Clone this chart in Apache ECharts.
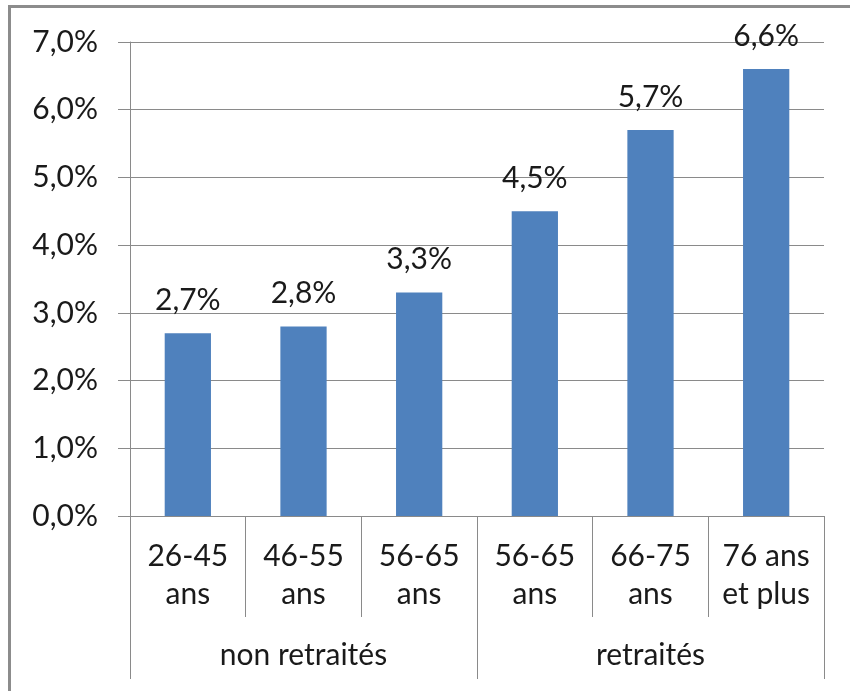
<!DOCTYPE html>
<html>
<head>
<meta charset="utf-8">
<script src="https://cdn.jsdelivr.net/npm/echarts@6/dist/echarts.min.js"></script>
<style>
html,body{margin:0;padding:0;background:#fff;}
#chart{width:850px;height:691px;}
</style>
</head>
<body>
<div id="chart"></div>
<script>
const categories = ['26-45\nans', '46-55\nans', '56-65\nans', '56-65\nans', '66-75\nans', '76 ans\net plus'];
const groups = ['non retraités', 'retraités'];
const values = [2.7, 2.8, 3.3, 4.5, 5.7, 6.6];
const yTicks = { min: 0, max: 7, interval: 1 };

const font = 'Lato, "Open Sans", sans-serif';
const gridColor = '#8a8a8a';
const textColor = '#1a1a1a';
const fs = 30;
const fmt = v => v.toFixed(1).replace('.', ',') + '%';

const chart = echarts.init(document.getElementById('chart'));
chart.setOption({
  animation: false,
  backgroundColor: '#fff',
  graphic: [{
    type: 'rect',
    shape: { x: 9.5, y: 6.5, width: 900, height: 800 },
    style: { fill: 'none', stroke: '#8c8c8c', lineWidth: 3 }
  }],
  grid: { left: 130, right: 26, top: 42, bottom: 175 },
  xAxis: [{
    type: 'category',
    data: categories,
    position: 'bottom',
    axisLine: { show: true, lineStyle: { color: gridColor, width: 1 } },
    axisTick: { show: true, length: 101, alignWithLabel: false, lineStyle: { color: gridColor } },
    axisLabel: { interval: 0, margin: 21, fontSize: fs, lineHeight: 38, color: textColor, fontFamily: font }
  }, {
    type: 'category',
    data: groups,
    position: 'bottom',
    axisLine: { show: false },
    axisTick: { show: true, length: 163, lineStyle: { color: gridColor } },
    axisLabel: { interval: 0, margin: 120, fontSize: fs, lineHeight: 38, color: textColor, fontFamily: font }
  }],
  yAxis: {
    type: 'value',
    min: yTicks.min, max: yTicks.max, interval: yTicks.interval,
    axisLine: { show: true, lineStyle: { color: gridColor } },
    axisTick: { show: true, length: 12, lineStyle: { color: gridColor } },
    splitLine: { show: true, lineStyle: { color: gridColor, width: 1 } },
    axisLabel: { margin: 32, fontSize: fs, color: textColor, fontFamily: font, formatter: fmt }
  },
  series: [{
    type: 'bar',
    xAxisIndex: 0,
    data: values,
    barWidth: '40%',
    itemStyle: { color: '#4F81BD' },
    label: {
      show: true, position: 'top', distance: 18,
      fontSize: fs, color: textColor, fontFamily: font,
      formatter: p => fmt(p.value)
    }
  }]
});
</script>
</body>
</html>
